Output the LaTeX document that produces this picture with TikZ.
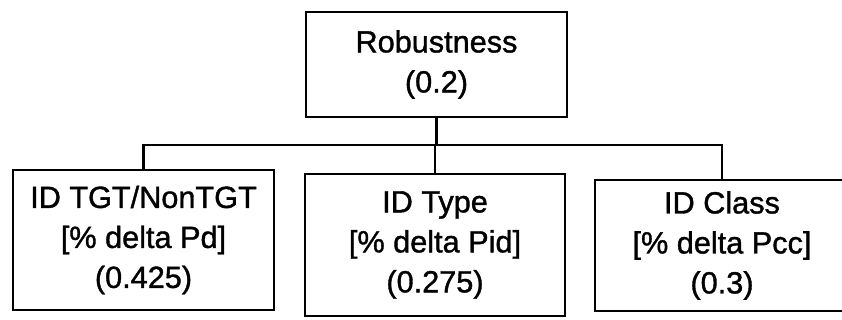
\documentclass[tikz,border=0pt]{standalone}
\usepackage{fontspec}
\setmainfont[FakeBold=1.2]{Liberation Sans}
\begin{document}
\begin{tikzpicture}[x=0.75pt,y=-0.75pt,
  box/.style={draw, line width=2.2pt, inner sep=0pt, align=center,
    font=\fontsize{23pt}{30pt}\selectfont},
  link/.style={line width=2.2pt}]
\useasboundingbox (0,0) rectangle (842,320);
\clip (0,0) rectangle (842,320);
\fill[white] (0,0) rectangle (842,320);
\node[box, minimum width=195.75pt, minimum height=78.75pt] (root) at (436.5,64.5) {Robustness\\(0.2)};
\node[box, minimum width=195.75pt, minimum height=105pt] (left) at (143.5,240) {ID TGT/NonTGT\\{[}\% delta Pd{]}\\(0.425)};
\node[box, minimum width=195pt, minimum height=106.5pt] (mid) at (435,245) {ID Type\\{[}\% delta Pid{]}\\(0.275)};
\node[box, minimum width=190.5pt, minimum height=98.25pt] (right) at (722,245.5) {ID Class\\{[}\% delta Pcc{]}\\(0.3)};
\coordinate (busy) at (0,145);
\draw[link] (root.south) -- (root.south |- busy);
\draw[link] (left.north) |- (right.north |- busy) -- (right.north);
\draw[link] (mid.north) -- (mid.north |- busy);
\end{tikzpicture}
\end{document}
